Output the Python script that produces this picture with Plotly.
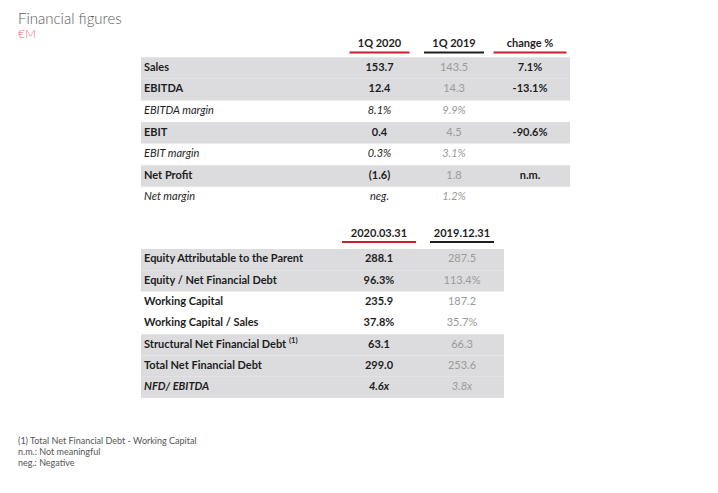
import plotly.graph_objects as go

# ---------------- data ----------------
t1_headers = ["1Q 2020", "1Q 2019", "change %"]
t1_labels = ["Sales", "EBITDA", "EBITDA margin", "EBIT", "EBIT margin",
             "Net Profit", "Net margin"]
t1_q2020 = ["153.7", "12.4", "8.1%", "0.4", "0.3%", "(1.6)", "neg."]
t1_q2019 = ["143.5", "14.3", "9.9%", "4.5", "3.1%", "1.8", "1.2%"]
t1_change = ["7.1%", "-13.1%", "", "-90.6%", "", "n.m.", ""]
t1_italic = [False, False, True, False, True, False, True]
t1_shaded = [True, True, False, True, False, True, False]

t2_headers = ["2020.03.31", "2019.12.31"]
t2_labels = ["Equity Attributable to the Parent", "Equity / Net Financial Debt",
             "Working Capital", "Working Capital / Sales",
             "Structural Net Financial Debt <sup>(1)</sup>",
             "Total Net Financial Debt", "NFD/ EBITDA"]
t2_mar2020 = ["288.1", "96.3%", "235.9", "37.8%", "63.1", "299.0", "4.6x"]
t2_dec2019 = ["287.5", "113.4%", "187.2", "35.7%", "66.3", "253.6", "3.8x"]
t2_italic = [False, False, False, False, False, False, True]
t2_shaded = [True, True, False, False, True, True, True]

footnotes = ["(1) Total Net Financial Debt - Working Capital",
             "n.m.: Not meaningful",
             "neg.: Negative"]

# ---------------- style ----------------
W, H = 718, 493
FONT = "Lato"
GREY_BG = "#dcdcde"
RED = "#c8202f"
DARK = "#1e1e1e"
LIGHT = "#9a9a9a"


def fmt(s, bold=False, italic=False):
    if italic:
        s = "<i>" + s + "</i>"
    if bold:
        s = "<b>" + s + "</b>"
    return s


fig = go.Figure()
shapes = []


def add_text(xs, ys, texts, pos, color, size=11, weight=None):
    # skip empty cells
    keep = [i for i, t in enumerate(texts) if t]
    font = dict(family=FONT, size=size, color=color)
    if weight:
        font["weight"] = weight
    fig.add_trace(go.Scatter(
        x=[xs[i] for i in keep], y=[ys[i] for i in keep], mode="text",
        text=[texts[i] for i in keep], textposition=pos, textfont=font,
        hoverinfo="skip", showlegend=False))


def add_table(left, right, top, row_h, header_y, line_y, col_x, col_w,
              col_line_colors, headers, labels, columns, col_styles,
              italic, shaded, label_bold_all):
    n = len(labels)
    # shaded row backgrounds
    for i in range(n):
        if shaded[i]:
            shapes.append(dict(type="rect", xref="x", yref="y", layer="below",
                               x0=left, x1=right,
                               y0=top + i * row_h, y1=top + (i + 1) * row_h,
                               fillcolor=GREY_BG, line_width=0))
    ys = [top + (i + 0.5) * row_h for i in range(n)]
    # headers with underline
    for cx, cw, hc in zip(col_x, col_w, col_line_colors):
        shapes.append(dict(type="line", xref="x", yref="y",
                           x0=cx - cw / 2, x1=cx + cw / 2, y0=line_y, y1=line_y,
                           line=dict(color=hc, width=2)))
    add_text(col_x, [header_y] * len(headers),
             ["<b>" + h + "</b>" for h in headers], "middle center", DARK)
    # labels
    lab = [fmt(s, bold=label_bold_all or not italic[i], italic=italic[i])
           for i, s in enumerate(labels)]
    add_text([left + 3] * n, ys, lab, "middle right", DARK)
    # value columns
    for cx, vals, (bold, color, italic_bold) in zip(col_x, columns, col_styles):
        txt = []
        for i, v in enumerate(vals):
            b = bold and (not italic[i] or italic_bold)
            txt.append(fmt(v, bold=b, italic=italic[i]) if v else "")
        add_text([cx] * n, ys, txt, "middle center", color)


add_table(left=141, right=570, top=57.2, row_h=21.6,
          header_y=44.5, line_y=52.5,
          col_x=[379.5, 454, 530], col_w=[60, 60, 73],
          col_line_colors=[RED, DARK, RED],
          headers=t1_headers, labels=t1_labels,
          columns=[t1_q2020, t1_q2019, t1_change],
          col_styles=[(True, DARK, False), (False, LIGHT, False), (True, DARK, False)],
          italic=t1_italic, shaded=t1_shaded, label_bold_all=False)

add_table(left=141, right=504, top=249, row_h=21.3,
          header_y=234.5, line_y=242,
          col_x=[379, 462], col_w=[74, 64],
          col_line_colors=[RED, DARK],
          headers=t2_headers, labels=t2_labels,
          columns=[t2_mar2020, t2_dec2019],
          col_styles=[(True, DARK, True), (False, LIGHT, False)],
          italic=t2_italic, shaded=t2_shaded, label_bold_all=True)

# title, unit and footnotes
add_text([18], [20], ["Financial figures"], "middle right", "#5a5a5a",
         size=15, weight=300)
add_text([18], [34.5], ["€M"], "middle right", "#e2707c", size=12, weight=300)
add_text([18] * len(footnotes), [442 + 11 * i for i in range(len(footnotes))],
         footnotes, "middle right", "#555555", size=9)

fig.update_layout(
    width=W, height=H,
    margin=dict(l=0, r=0, t=0, b=0),
    paper_bgcolor="white", plot_bgcolor="white",
    xaxis=dict(range=[0, W], visible=False, fixedrange=True),
    yaxis=dict(range=[H, 0], visible=False, fixedrange=True),
    shapes=shapes,
)

fig.write_html("out.html", config={"displayModeBar": False},
               post_script="document.body.style.margin='0';")
